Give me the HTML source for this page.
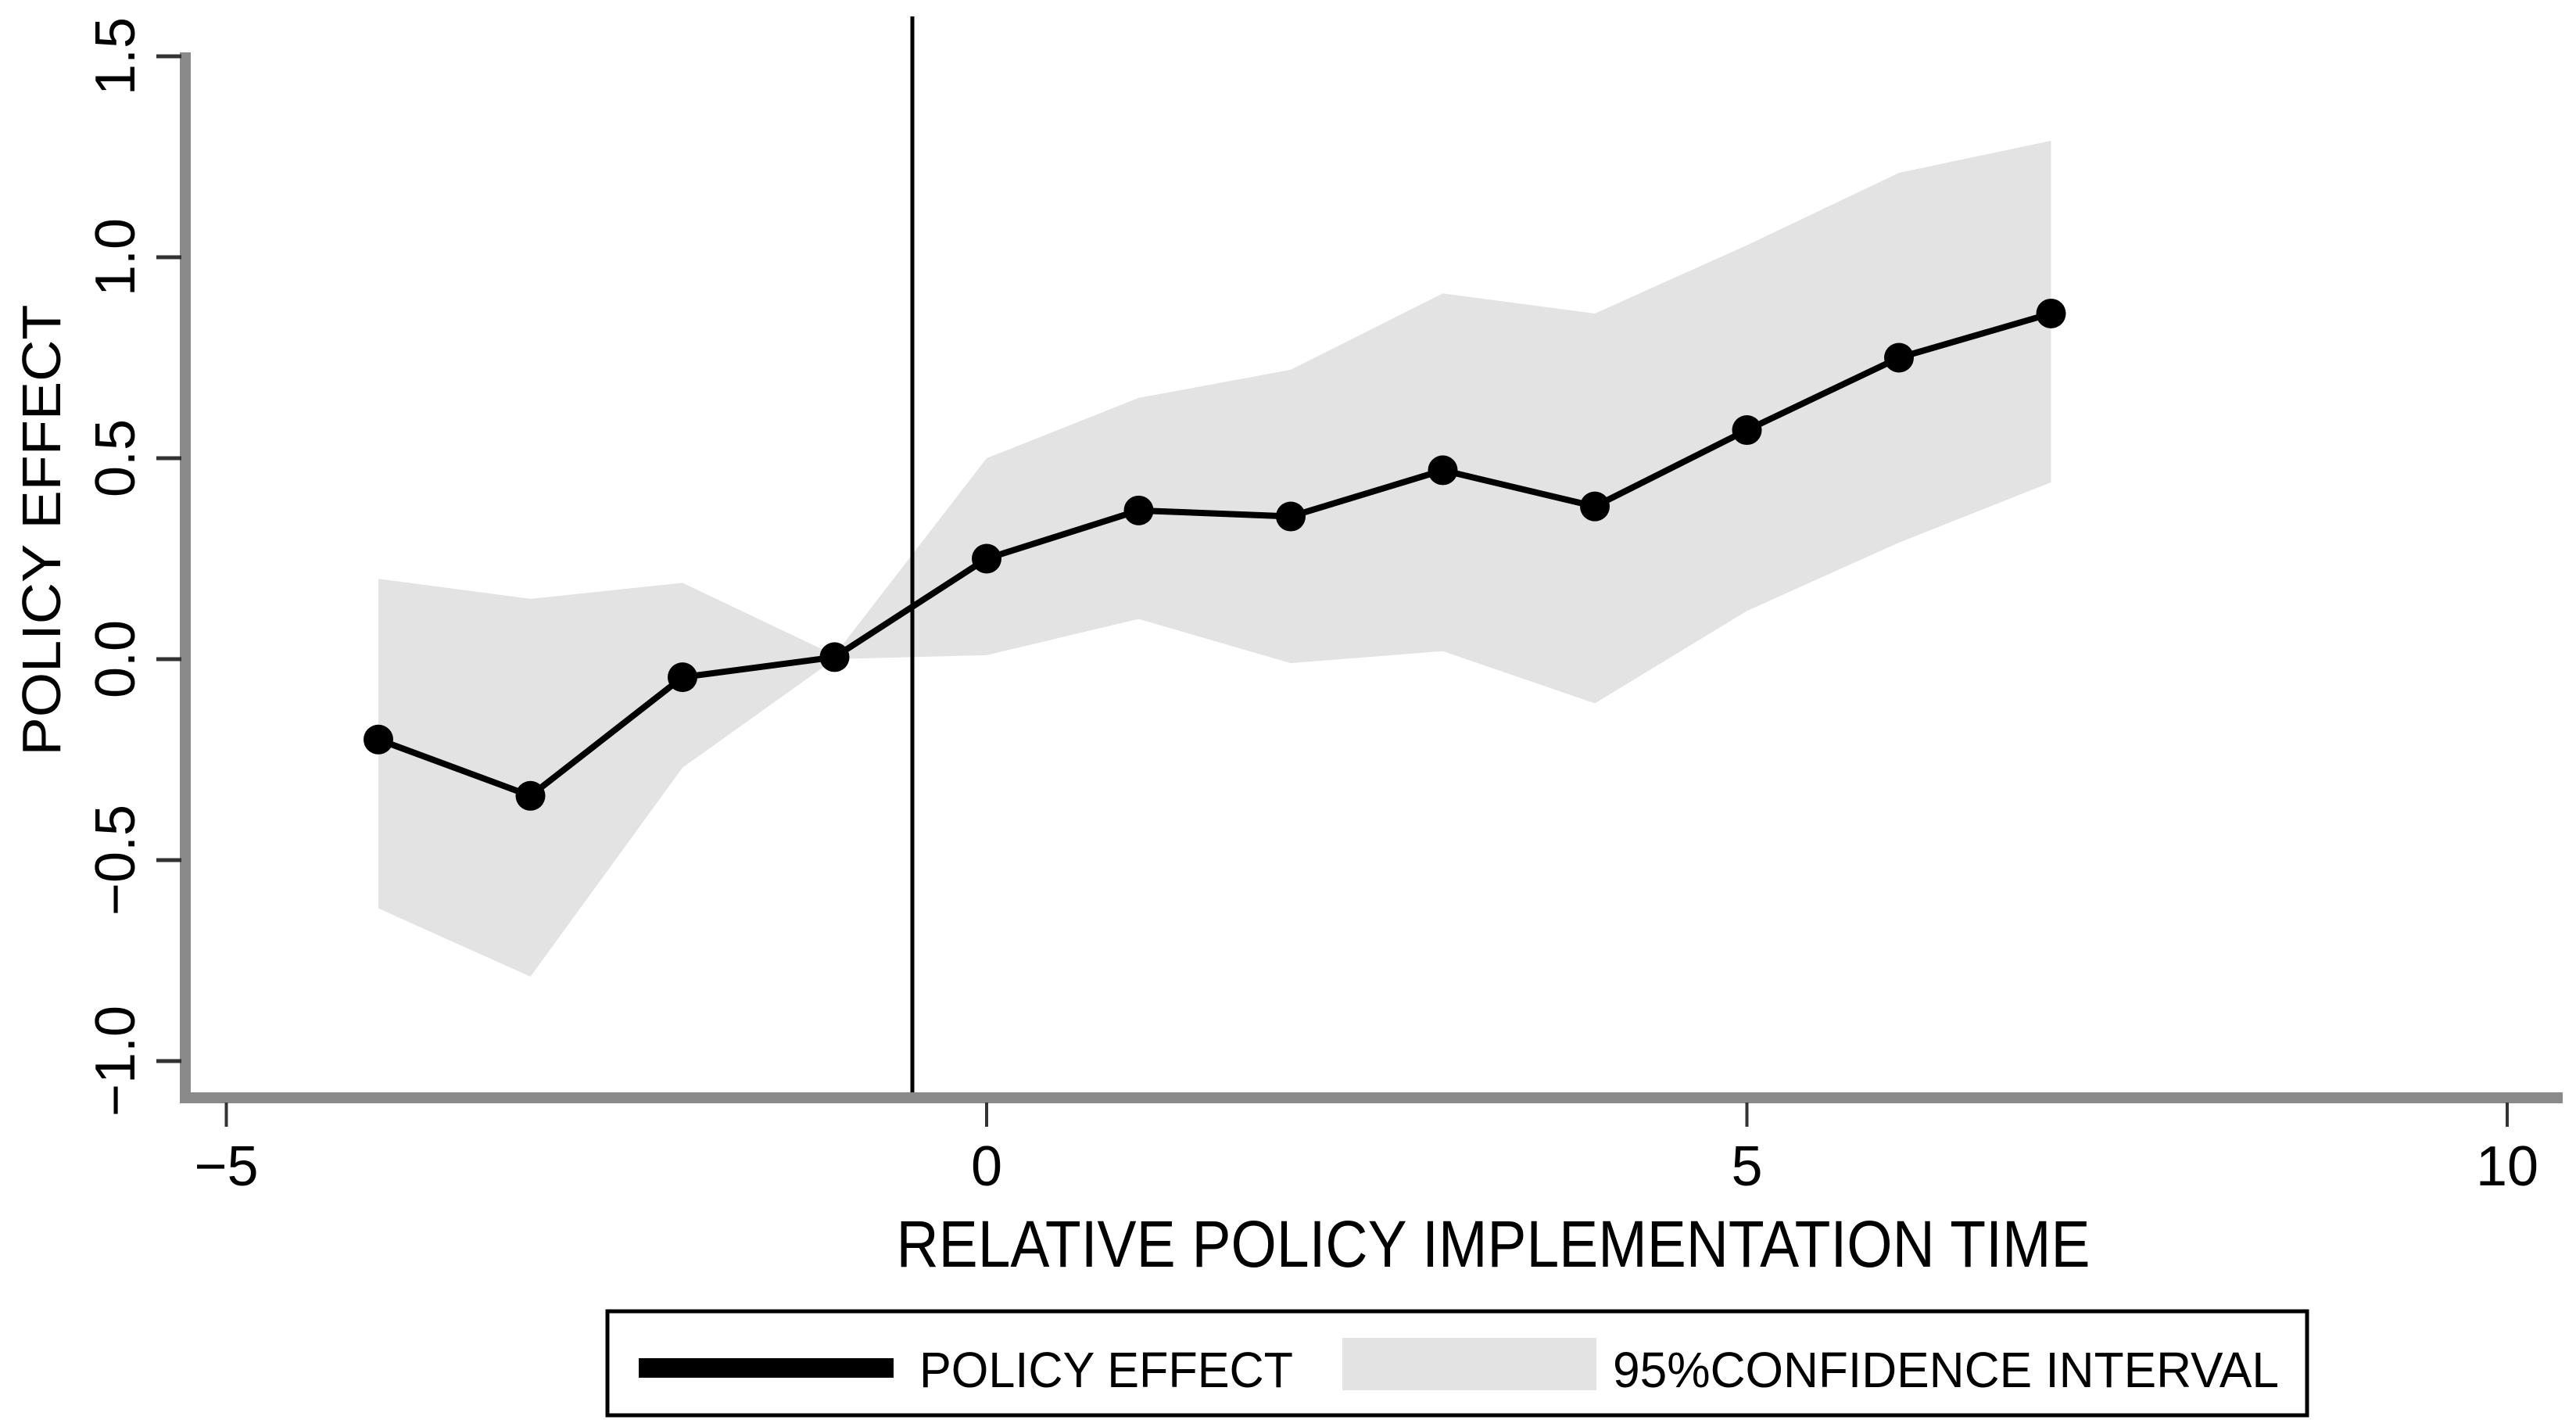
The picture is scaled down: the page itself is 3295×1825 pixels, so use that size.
<!DOCTYPE html>
<html><head><meta charset="utf-8"><style>
html,body{margin:0;padding:0;background:#fff;}
svg{display:block;font-family:"Liberation Sans",sans-serif;}
</style></head><body>
<svg id="chart" width="3295" height="1825" viewBox="0 0 3295 1825">
<g id="band"></g>
<line x1="1167" y1="21" x2="1167" y2="1404" stroke="#000" stroke-width="5"/>
<g id="series"></g>
<g id="axes"></g>
<text font-size="70" text-anchor="middle" textLength="577" lengthAdjust="spacingAndGlyphs" transform="rotate(-90 77 678)" x="77" y="678">POLICY EFFECT</text>
<text x="1910" y="1620" font-size="84" text-anchor="middle" textLength="1527" lengthAdjust="spacingAndGlyphs">RELATIVE POLICY IMPLEMENTATION TIME</text>
<g>
<rect x="777" y="1677" width="2174" height="133" fill="#fff" stroke="#000" stroke-width="5"/>
<rect x="817" y="1737" width="326" height="25" fill="#000"/>
<text x="1176" y="1774" font-size="64" textLength="478" lengthAdjust="spacingAndGlyphs">POLICY EFFECT</text>
<rect x="1717" y="1711" width="325" height="67" fill="#e3e3e3"/>
<text x="2063" y="1774" font-size="64" textLength="852" lengthAdjust="spacingAndGlyphs">95%CONFIDENCE INTERVAL</text>
</g>
</svg>
<script>
const periods = [-4,-3,-2,-1,0,1,2,3,4,5,6,7];
const effect = [-0.20,-0.34,-0.045,0.005,0.25,0.37,0.355,0.47,0.38,0.57,0.75,0.86];
const upper = [0.20,0.15,0.19,0.01,0.50,0.65,0.72,0.91,0.86,1.03,1.21,1.29];
const lower = [-0.62,-0.79,-0.27,0.0,0.01,0.10,-0.01,0.02,-0.11,0.12,0.29,0.44];
const xTicks = [-5,0,5,10];
const xTickLabels = ["\u22125","0","5","10"];
const yTicks = [-1.0,-0.5,0.0,0.5,1.0,1.5];
const yTickLabels = ["\u22121.0","\u22120.5","0.0","0.5","1.0","1.5"];

const NS = "http://www.w3.org/2000/svg";
const xS = v => 1262 + v * 194.5;
const yS = v => 843 - v * 514;
function mk(tag, attrs, parent){const e=document.createElementNS(NS,tag);for(const k in attrs)e.setAttribute(k,attrs[k]);parent.appendChild(e);return e;}

const band = document.getElementById('band');
let pts = periods.map((p,i)=>xS(p)+','+yS(upper[i]));
for(let i=periods.length-1;i>=0;i--) pts.push(xS(periods[i])+','+yS(lower[i]));
const poly = mk('polygon',{points:pts.join(' '),fill:'#e3e3e3'},band);



const series = document.getElementById('series');
const line = mk('polyline',{points:periods.map((p,i)=>xS(p)+','+yS(effect[i])).join(' '),fill:'none',stroke:'#000','stroke-width':8,'stroke-linejoin':'round'},series);


periods.forEach((p,i)=>{
  const c = mk('circle',{cx:xS(p),cy:yS(effect[i]),r:19,fill:'#000'},series);
  
  
});

const axes = document.getElementById('axes');
const ya = mk('line',{x1:237,y1:yS(1.5)-5,x2:237,y2:1410,stroke:'#8a8a8a','stroke-width':14},axes);


const xa = mk('line',{x1:230,y1:1404,x2:3278,y2:1404,stroke:'#8a8a8a','stroke-width':14},axes);


yTicks.forEach((v,i)=>{
  const t = mk('line',{x1:200,y1:yS(v),x2:232,y2:yS(v),stroke:'#333','stroke-width':5},axes);
  
  
  const tx = mk('text',{x:172,y:yS(v),'font-size':72,'text-anchor':'middle',transform:'rotate(-90 172 '+yS(v)+')'},axes);
  tx.textContent = yTickLabels[i];
  
  
});
xTicks.forEach((v,i)=>{
  const t = mk('line',{x1:xS(v),y1:1410,x2:xS(v),y2:1441,stroke:'#333','stroke-width':4},axes);
  
  
  const tx = mk('text',{x:xS(v),y:1516,'font-size':72,'text-anchor':'middle'},axes);
  tx.textContent = xTickLabels[i];
  
  
});
</script>
</body></html>
